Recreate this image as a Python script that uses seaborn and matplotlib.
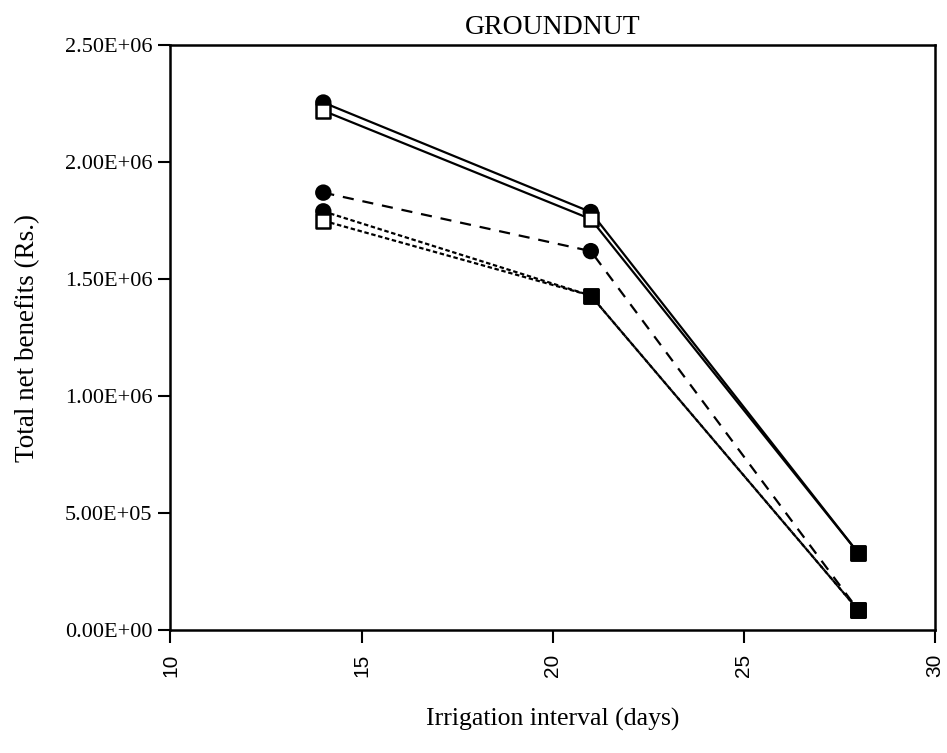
import matplotlib
matplotlib.use("Agg")
import matplotlib.pyplot as plt
from matplotlib.ticker import FuncFormatter
import numpy as np
import pandas as pd
import seaborn as sns

# Irrigation interval (days) and total net benefits (Rs.) for each scenario
interval_days = [14, 21, 28]
series_names = ["S1", "S2", "S3", "S4", "S5"]
benefit_s1 = [2.255e6, 1.787e6, 3.30e5]
benefit_s2 = [2.220e6, 1.757e6, 3.30e5]
benefit_s3 = [1.870e6, 1.620e6, 8.6e4]
benefit_s4 = [1.790e6, 1.430e6, 8.6e4]
benefit_s5 = [1.750e6, 1.430e6, 8.6e4]
x_ticks = [10, 15, 20, 25, 30]
y_ticks = [0.0, 5.0e5, 1.0e6, 1.5e6, 2.0e6, 2.5e6]

benefits = [benefit_s1, benefit_s2, benefit_s3, benefit_s4, benefit_s5]

# line style and per-point marker for every scenario
line_styles = {"S1": "-", "S2": "-", "S3": (0, (5, 4)), "S4": (0, (2, 1.2)), "S5": (0, (2, 1.2))}
point_shapes = {
    "S1": ["circle", "circle", "square"],
    "S2": ["square", "square", "square"],
    "S3": ["circle", "circle", "square"],
    "S4": ["circle", "square", "square"],
    "S5": ["square", "square", "square"],
}
point_fills = {
    "S1": ["filled", "filled", "filled"],
    "S2": ["open", "open", "filled"],
    "S3": ["filled", "filled", "filled"],
    "S4": ["filled", "filled", "filled"],
    "S5": ["open", "filled", "filled"],
}

rows = []
for name, vals in zip(series_names, benefits):
    for i, (d, v) in enumerate(zip(interval_days, vals)):
        rows.append({"series": name, "interval": d, "benefit": v,
                     "shape": point_shapes[name][i], "fill": point_fills[name][i]})
df = pd.DataFrame(rows)

sns.set_style("ticks")
plt.rcParams["font.family"] = ["Liberation Serif", "DejaVu Serif"]
plt.rcParams["text.color"] = "black"
plt.rcParams["axes.labelcolor"] = "black"

fig = plt.figure(figsize=(9.47, 7.53), dpi=100)
ax = fig.add_axes([0.180, 0.163, 0.807, 0.777])

for name in series_names:
    sub = df[df["series"] == name]
    sns.lineplot(data=sub, x="interval", y="benefit", ax=ax, color="black",
                 linewidth=1.6, linestyle=line_styles[name], legend=False,
                 estimator=None, sort=False)

# circles first so the open squares sit on top of them
pts = pd.concat([df[df["shape"] == "circle"], df[df["shape"] == "square"]])
sns.scatterplot(data=pts, x="interval", y="benefit", ax=ax, hue="fill",
                palette={"filled": "black", "open": "white"}, style="shape",
                markers={"circle": "o", "square": "s"}, s=100,
                edgecolor="black", linewidth=1.8, legend=False, zorder=5)

ax.set_xlim(10, 30)
ax.set_ylim(0, 2.5e6)
ax.set_xticks(x_ticks)
ax.set_yticks(y_ticks)
ax.yaxis.set_major_formatter(FuncFormatter(lambda v, p: f"{v:.2E}"))
ax.xaxis.set_major_formatter(FuncFormatter(lambda v, p: f"{int(v)}"))
for lbl in ax.get_xticklabels():
    lbl.set_rotation(90)
    lbl.set_family(["Liberation Sans", "DejaVu Sans"])
    lbl.set_fontsize(15)

ax.tick_params(axis="both", direction="out", length=9, width=1.5,
               colors="black")
ax.tick_params(axis="y", labelsize=16, pad=4)
ax.tick_params(axis="x", pad=8)
for side in ["left", "right", "top", "bottom"]:
    ax.spines[side].set_visible(True)
    ax.spines[side].set_linewidth(1.8)
    ax.spines[side].set_color("black")

ax.set_xlabel("Irrigation interval (days)", fontsize=18.5, labelpad=22, color="black")
ax.set_ylabel("Total net benefits (Rs.)", fontsize=19.5, labelpad=18, color="black")
ax.set_title("GROUNDNUT", fontsize=20, pad=8, color="black")
ax.grid(False)

fig.savefig("out.png", dpi=100, facecolor="white")
